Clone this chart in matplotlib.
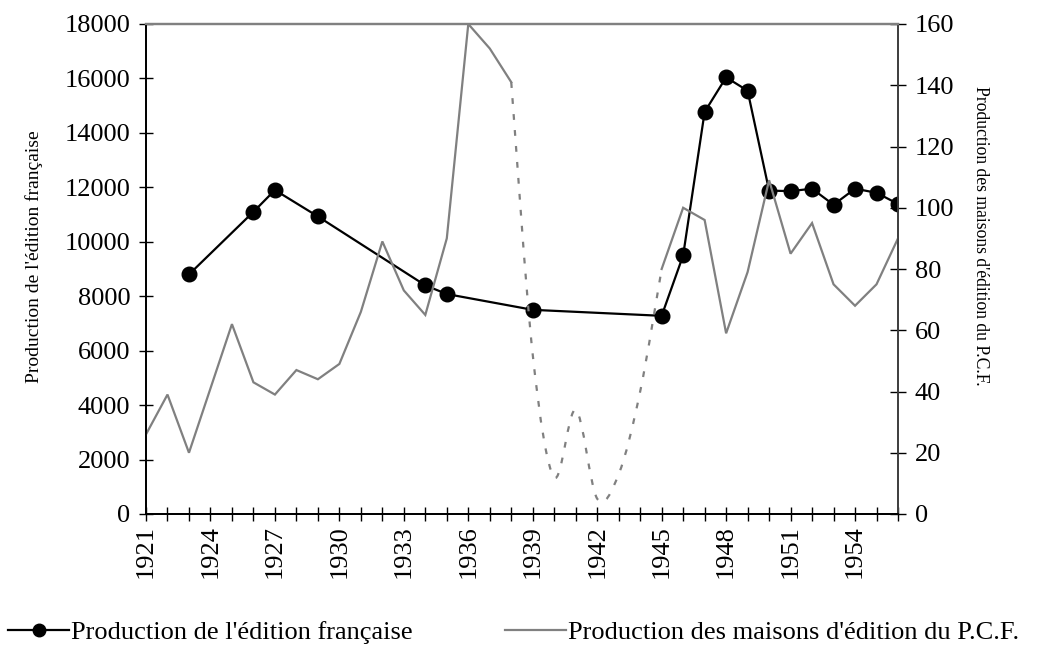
import matplotlib
matplotlib.use("Agg")
import matplotlib.pyplot as plt
from matplotlib.path import Path
from matplotlib.patches import PathPatch
from matplotlib.lines import Line2D
import numpy as np

plt.rcParams['font.family'] = ['Liberation Serif', 'DejaVu Serif']

# ---- data ----
fr_years = [1923, 1926, 1927, 1929, 1934, 1935, 1939, 1945, 1946, 1947, 1948,
            1949, 1950, 1951, 1952, 1953, 1954, 1955, 1956]
fr_values = [8800, 11100, 11900, 10930, 8400, 8080, 7500, 7280, 9500, 14770, 16040,
             15550, 11880, 11860, 11950, 11360, 11950, 11800, 11390]

pcf_years = list(range(1921, 1957))
pcf_values = [26, 39, 20, 41, 62, 43, 39, 47, 44, 49,
              66, 89, 73, 65, 90, 160, 152, 141, 52, 12,
              34, 5, 13, 40, 80, 100, 96, 59, 79, 109,
              85, 95, 75, 68, 75, 90]
dotted_start, dotted_end = 1938, 1945   # war-time segment drawn dotted

tick_years = list(range(1921, 1955, 3))
left_ticks = list(range(0, 18001, 2000))
right_ticks = list(range(0, 161, 20))

label_fr = "Production de l'édition française"
label_pcf = "Production des maisons d'édition du P.C.F."

GRAY = '#808080'
W, H = 1037, 650

fig = plt.figure(figsize=(W / 100, H / 100), dpi=100)
ax = fig.add_axes([146/W, 1-514/H, (898-146)/W, (514-24)/H])
ax2 = ax.twinx()

# black series
ax.plot(fr_years, fr_values, color='black', lw=1.6, marker='o', ms=10.5, zorder=3)

# gray series: solid parts
pcf_x = np.array(pcf_years)
pcf_y = np.array(pcf_values, dtype=float)
m1 = pcf_x <= dotted_start
m2 = pcf_x >= dotted_end
ax2.plot(pcf_x[m1], pcf_y[m1], color=GRAY, lw=1.6, solid_joinstyle='miter')
ax2.plot(pcf_x[m2], pcf_y[m2], color=GRAY, lw=1.6, solid_joinstyle='miter')

# dotted smoothed segment (Excel-style Bezier smoothing through the data points)
md = (pcf_x >= dotted_start) & (pcf_x <= dotted_end)
pts = np.column_stack([pcf_x[md].astype(float), pcf_y[md]])
n = len(pts)
verts = [tuple(pts[0])]
codes = [Path.MOVETO]
for i in range(n - 1):
    p0 = pts[i - 1] if i > 0 else pts[i]
    p1 = pts[i]
    p2 = pts[i + 1]
    p3 = pts[i + 2] if i + 2 < n else pts[i + 1]
    c1 = p1 + (p2 - p0) / 6.0
    c2 = p2 - (p3 - p1) / 6.0
    verts += [tuple(c1), tuple(c2), tuple(p2)]
    codes += [Path.CURVE4, Path.CURVE4, Path.CURVE4]
patch = PathPatch(Path(verts, codes), facecolor='none', edgecolor=GRAY, lw=1.6,
                  linestyle=(0, (2.6, 4.6)), capstyle='butt')
ax2.add_patch(patch)

# axes ranges & ticks
ax.set_xlim(1921, 1956)
ax.set_ylim(0, 18000)
ax2.set_ylim(0, 160)
ax.set_xticks(tick_years)
ax.set_xticks(pcf_years, minor=True)
ax.set_xticklabels([str(y) for y in tick_years], rotation=90, fontsize=19)
ax.set_yticks(left_ticks)
ax.set_yticklabels([str(v) for v in left_ticks], fontsize=19)
ax2.set_yticks(right_ticks)
ax2.set_yticklabels([str(v) for v in right_ticks], fontsize=19)

ax.tick_params(axis='x', which='both', direction='inout', length=10, width=1.0, pad=3)
ax.tick_params(axis='y', direction='inout', length=10.5, width=1.0, pad=6)
ax2.tick_params(axis='y', direction='inout', length=12, width=1.0, pad=6, colors='black')

for a in (ax, ax2):
    a.spines['top'].set_color(GRAY)
    a.spines['top'].set_linewidth(1.6)
    a.spines['left'].set_color('black')
    a.spines['left'].set_linewidth(1.3)
    a.spines['bottom'].set_color('black')
    a.spines['bottom'].set_linewidth(1.3)
    a.spines['right'].set_color('#404040')
    a.spines['right'].set_linewidth(1.3)

# axis titles
fig.text(34/W, 1-257/H, label_fr, fontsize=14, rotation=90, ha='center', va='center')
fig.text(981/W, 1-236/H, label_pcf, fontsize=12.7, rotation=-90, ha='center', va='center')

# legend
handles = [Line2D([], [], color='black', lw=1.6, marker='o', ms=9),
           Line2D([], [], color=GRAY, lw=1.6)]
fig.legend(handles, [label_fr, label_pcf], loc='center left',
           bbox_to_anchor=(0.008, 0.027), ncol=2, frameon=False, fontsize=19,
           handlelength=2.3, handletextpad=0.08, columnspacing=3.5, borderaxespad=0,
           borderpad=0)

fig.savefig('out.png', dpi=100)
